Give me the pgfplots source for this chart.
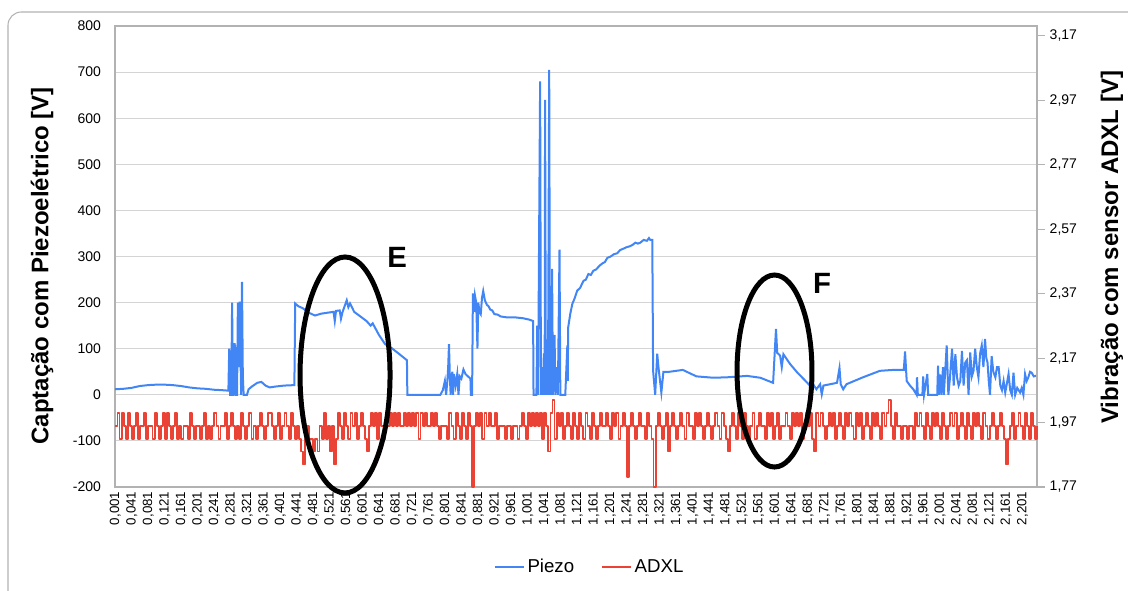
\documentclass[border=0pt]{standalone}
\usepackage{fontspec}
\setmainfont{Liberation Sans}
\usepackage{pgfplots}
\pgfplotsset{compat=1.18}
\usepackage{pgfplotstable}

\definecolor{piezo}{RGB}{66,133,244}
\definecolor{adxl}{RGB}{234,67,53}
\definecolor{gridc}{RGB}{212,212,212}
\definecolor{axisc}{RGB}{178,178,178}

% ADXL samples, one every 5 ms starting at 1 ms
\pgfplotstableread[header=false,row sep=\\]{
1.96\\2\\1.92\\2\\1.96\\1.92\\2\\1.96\\1.92\\1.96\\2\\1.92\\1.96\\1.96\\2\\1.92\\
1.96\\1.96\\1.92\\2\\1.96\\1.92\\1.96\\2\\1.92\\2\\1.96\\1.92\\1.96\\2\\1.92\\1.96\\
1.92\\1.96\\1.96\\1.92\\2\\1.96\\1.92\\1.96\\1.96\\1.92\\1.96\\2\\1.92\\1.96\\1.92\\1.96\\
2\\1.96\\1.92\\1.96\\1.96\\2\\1.92\\1.96\\2\\1.96\\1.92\\1.96\\1.92\\2\\1.96\\1.92\\
1.96\\2\\1.92\\1.96\\1.92\\1.96\\2\\1.96\\1.92\\1.96\\2\\2\\1.96\\1.92\\1.96\\2\\
1.92\\1.96\\2\\1.96\\1.92\\2\\1.96\\1.92\\1.96\\1.92\\1.88\\1.84\\1.92\\1.96\\1.92\\1.92\\
1.88\\1.92\\1.88\\1.96\\1.92\\2\\1.92\\1.96\\1.88\\1.96\\1.84\\1.92\\2\\1.96\\1.92\\2\\
1.96\\1.92\\2\\1.96\\2\\1.92\\1.96\\2\\1.96\\1.92\\1.88\\1.96\\2\\1.96\\2\\1.92\\
2\\1.96\\1.92\\2\\1.96\\2\\1.96\\2\\1.96\\2\\1.96\\1.96\\2\\1.96\\2\\1.96\\
2\\1.96\\2\\1.92\\2\\1.96\\2\\1.96\\1.96\\2\\1.96\\2\\1.96\\1.92\\1.96\\1.96\\
1.96\\1.92\\2\\1.96\\1.92\\2\\1.96\\1.92\\2\\1.96\\1.92\\2\\1.96\\1.77\\1.96\\2\\
1.96\\2\\1.92\\2\\1.96\\2\\1.96\\1.96\\2\\1.92\\1.96\\1.96\\1.96\\1.92\\1.96\\1.96\\
1.92\\1.96\\1.96\\1.92\\1.96\\2\\1.96\\1.92\\2\\1.96\\2\\1.96\\2\\1.96\\2\\1.92\\
2\\1.96\\1.88\\2\\2.04\\1.92\\2\\1.96\\2\\1.92\\1.96\\2\\1.96\\1.92\\2\\1.96\\
1.92\\2\\1.96\\1.92\\2\\1.96\\1.92\\2\\1.96\\1.92\\1.96\\2\\1.96\\1.96\\2\\1.96\\
1.92\\2\\1.96\\2\\1.92\\1.96\\2\\1.96\\1.80\\1.96\\2\\1.96\\1.92\\1.96\\2\\1.96\\
1.96\\1.92\\2\\1.96\\1.92\\1.77\\1.96\\2\\1.96\\1.92\\1.96\\2\\1.88\\1.96\\2\\1.96\\
1.92\\1.96\\2\\1.96\\1.92\\2\\1.96\\1.96\\1.92\\2\\1.96\\2\\1.96\\1.92\\1.96\\2\\
1.96\\1.92\\1.96\\2\\1.96\\1.92\\2\\1.96\\1.92\\1.88\\1.96\\2\\1.96\\1.92\\2\\1.96\\
1.92\\2\\1.96\\1.92\\1.96\\2\\1.92\\1.96\\2\\1.96\\1.96\\1.92\\2\\1.96\\2\\1.92\\
1.96\\2\\1.92\\1.96\\1.96\\2\\1.96\\1.92\\2\\1.96\\2\\1.96\\2\\1.92\\1.96\\2\\
1.96\\2\\1.92\\1.88\\2\\1.96\\2\\1.96\\1.92\\1.96\\2\\1.96\\2\\1.92\\1.96\\2\\
1.96\\1.92\\2\\1.96\\2\\1.96\\1.92\\2\\1.96\\2\\1.92\\1.96\\2\\1.96\\1.92\\2\\
1.96\\2\\1.96\\1.92\\2\\1.96\\2\\2.04\\1.96\\1.92\\2\\1.96\\1.96\\1.92\\1.96\\1.96\\
1.92\\1.96\\1.96\\1.92\\2\\1.96\\2\\1.96\\1.92\\2\\1.96\\1.92\\2\\1.96\\2\\1.96\\
1.92\\2\\1.96\\1.92\\1.96\\2\\1.96\\2\\1.92\\1.96\\2\\1.96\\1.92\\2\\1.96\\1.92\\
2\\1.96\\2\\1.96\\1.92\\2\\1.96\\1.92\\1.96\\2\\1.96\\1.92\\1.96\\2\\1.96\\1.92\\
1.84\\1.92\\1.96\\2\\1.92\\1.96\\2\\1.96\\1.92\\2\\1.96\\1.92\\2\\1.96\\1.92\\1.96\\
}\adxldata

\begin{document}
\begin{tikzpicture}
\useasboundingbox (-86.25pt,-77.25pt) rectangle (759.75pt,365.25pt);
\draw[axisc, line width=0.8pt, rounded corners=10pt] (-80.25pt,-120pt) -- (-80.25pt,356.25pt) -- (800pt,356.25pt);

\begin{axis}[
    at={(0,0)}, anchor=south west,
    scale only axis, width=691.5pt, height=345.75pt,
    xmin=0, xmax=2236, ymin=-200, ymax=800,
    ytick={-200,-100,...,800},
    xtick={1,41,...,2201},
    xticklabel={\pgfmathparse{\tick/1000}\pgfmathprintnumber[fixed,precision=3,zerofill,use comma]{\pgfmathresult}},
    /pgf/number format/assume math mode=true,
    xticklabel style={rotate=90, anchor=east, font=\fontsize{10}{12}\selectfont},
    yticklabel style={font=\fontsize{10.5}{12}\selectfont, xshift=-7pt},
    major tick length=0pt,
    axis line style={axisc, line width=0.8pt},
    ymajorgrids, grid style={gridc, line width=0.8pt},
    every axis y label/.style={at={(axis description cs:-0.079,0.48)}, rotate=90, anchor=center},
    ylabel={\bfseries\fontsize{18}{20}\selectfont Captação com Piezoelétrico [V]},
]
\addplot[piezo, line width=1.5pt] coordinates {
(0,12) (20,13) (40,15) (60,19) (80,21) (100,22) (120,22) (140,21) (160,19) (180,16) (200,14) (220,13) (240,11) (260,10) (275,9)
(277,100) (279,0) (282,0) (284,200) (286,0) (288,0) (290,112) (292,95) (294,0) (296,0) (298,200) (300,60) (302,202) (304,100) (306,0) (308,245) (310,40) (312,0) (320,0) (324,12) (332,18) (345,26) (355,28) (365,20) (375,16) (390,18) (410,20) (435,21)
(437,198) (445,192) (455,188) (470,178) (485,172) (500,176) (515,178) (530,180) (533,160) (536,182) (545,183) (548,165) (552,180) (558,195) (562,205) (566,190) (570,198) (580,180) (595,170) (610,160) (620,150) (625,155) (640,130) (655,110) (670,102) (690,88) (708,75) (709,0)
(789,0) (795,10) (800,30) (803,0) (806,30) (808,60) (810,110) (812,40) (814,0) (818,50) (820,0) (822,45) (826,20) (830,45) (833,0) (836,40) (840,35) (845,55) (850,45) (856,40) (862,35) (863,0) (866,0)
(868,220) (871,180) (873,215) (876,200) (879,100) (881,200) (884,180) (887,175) (890,210) (893,225) (897,205) (902,195) (906,192) (910,185) (915,183) (920,175) (928,174) (935,170) (950,168) (970,168) (990,166) (1005,163) (1014,160) (1015,0)
(1022,0) (1024,150) (1026,0) (1031,680) (1033,0) (1036,60) (1038,0) (1040,90) (1042,0) (1043,640) (1045,0) (1048,120) (1050,0) (1053,705) (1055,0) (1058,80) (1059,0) (1060,273) (1062,0) (1066,130) (1068,0) (1072,60) (1074,0) (1078,315) (1080,0) (1092,0)
(1097,107) (1098,30) (1099,146) (1104,175) (1109,197) (1115,210) (1121,226) (1128,232) (1136,247) (1142,250) (1148,262) (1154,260) (1160,269) (1167,272) (1175,280) (1182,285) (1188,288) (1194,297) (1202,300) (1210,305) (1218,307) (1225,314) (1233,317) (1240,320) (1248,322) (1255,325) (1262,330) (1268,328) (1274,330) (1282,336) (1290,334) (1295,340) (1298,336) (1303,336)
(1305,52) (1310,0) (1315,89) (1318,60) (1325,5) (1330,50) (1345,50) (1377,54) (1410,40) (1451,37) (1485,38) (1533,41) (1565,37) (1596,26)
(1603,143) (1606,91) (1613,85) (1617,60) (1621,88) (1637,67) (1654,49) (1679,26) (1685,20) (1693,23) (1701,12) (1710,23) (1714,1) (1718,20) (1751,26) (1757,58) (1760,23) (1766,12) (1774,23) (1814,38) (1855,52) (1887,54) (1913,54) (1916,94) (1920,30) (1928,20) (1936,12) (1944,0) (1945,38) (1947,0) (1958,0) (1960,40) (1962,0) (1970,45) (1972,0) (1994,0) (1996,63) (1998,0) (2001,44) (2004,0) (2008,60) (2010,0) (2017,107) (2021,0) (2025,38) (2030,100) (2034,20) (2038,88) (2042,38) (2046,20) (2050,30) (2054,95) (2058,20) (2062,70) (2066,75) (2070,0) (2074,92) (2078,40) (2082,52) (2086,100) (2090,60) (2094,38) (2098,90) (2102,107) (2106,60) (2110,121) (2113,80) (2116,70) (2119,30) (2122,0) (2126,84) (2130,50) (2135,38) (2139,60) (2143,60) (2147,20) (2151,10) (2155,30) (2159,5) (2163,25) (2167,45) (2171,10) (2175,0) (2179,48) (2183,0) (2188,15) (2195,5) (2199,15) (2203,0) (2207,45) (2211,30) (2215,38) (2219,50) (2223,48) (2228,40) (2236,42)
};
\end{axis}

\begin{axis}[
    at={(0,0)}, anchor=south west,
    scale only axis, width=691.5pt, height=345.75pt,
    xmin=0, xmax=2236, ymin=1.77, ymax=3.20,
    axis y line*=right, axis x line=none,
    ytick={1.77,1.97,2.17,2.37,2.57,2.77,2.97,3.17},
    /pgf/number format/assume math mode=true,
    yticklabel style={/pgf/number format/.cd, fixed, precision=2, zerofill, use comma, /tikz/.cd, font=\fontsize{10.5}{12}\selectfont},
    tick align=outside, major tick length=6pt, ytick style={axisc, line width=0.8pt},
    axis line style={axisc, line width=0.8pt},
    every axis y label/.style={at={(axis description cs:1.0813,0.52)}, rotate=90, anchor=center},
    ylabel={\bfseries\fontsize{18}{20}\selectfont Vibração com sensor ADXL [V]},
    clip=false,
    legend style={at={(0.515,-0.174)}, anchor=center, draw=none, fill=none, legend columns=2,
        font=\fontsize{14}{16}\selectfont, /tikz/every even column/.append style={column sep=18pt}},
    legend image code/.code={\draw[#1] (0pt,0pt) -- (22pt,0pt);},
]
\addlegendimage{piezo, line width=1.5pt}
\addlegendentry{Piezo}
\addplot[adxl, line width=1.4pt, const plot, line join=bevel] table[x expr=\coordindex*5+1, y index=0] {\adxldata};
\addlegendentry{ADXL}

\draw[line width=3.75pt] (rel axis cs:0.2495,0.243) ellipse [x radius=33.75pt, y radius=88.5pt];
\draw[line width=3.75pt] (rel axis cs:0.7153,0.2516) ellipse [x radius=28.1pt, y radius=72pt];
\node[font=\bfseries\fontsize{22}{24}\selectfont] at (rel axis cs:0.306,0.499) {E};
\node[font=\bfseries\fontsize{22}{24}\selectfont] at (rel axis cs:0.7668,0.4425) {F};
\end{axis}
\end{tikzpicture}
\end{document}
